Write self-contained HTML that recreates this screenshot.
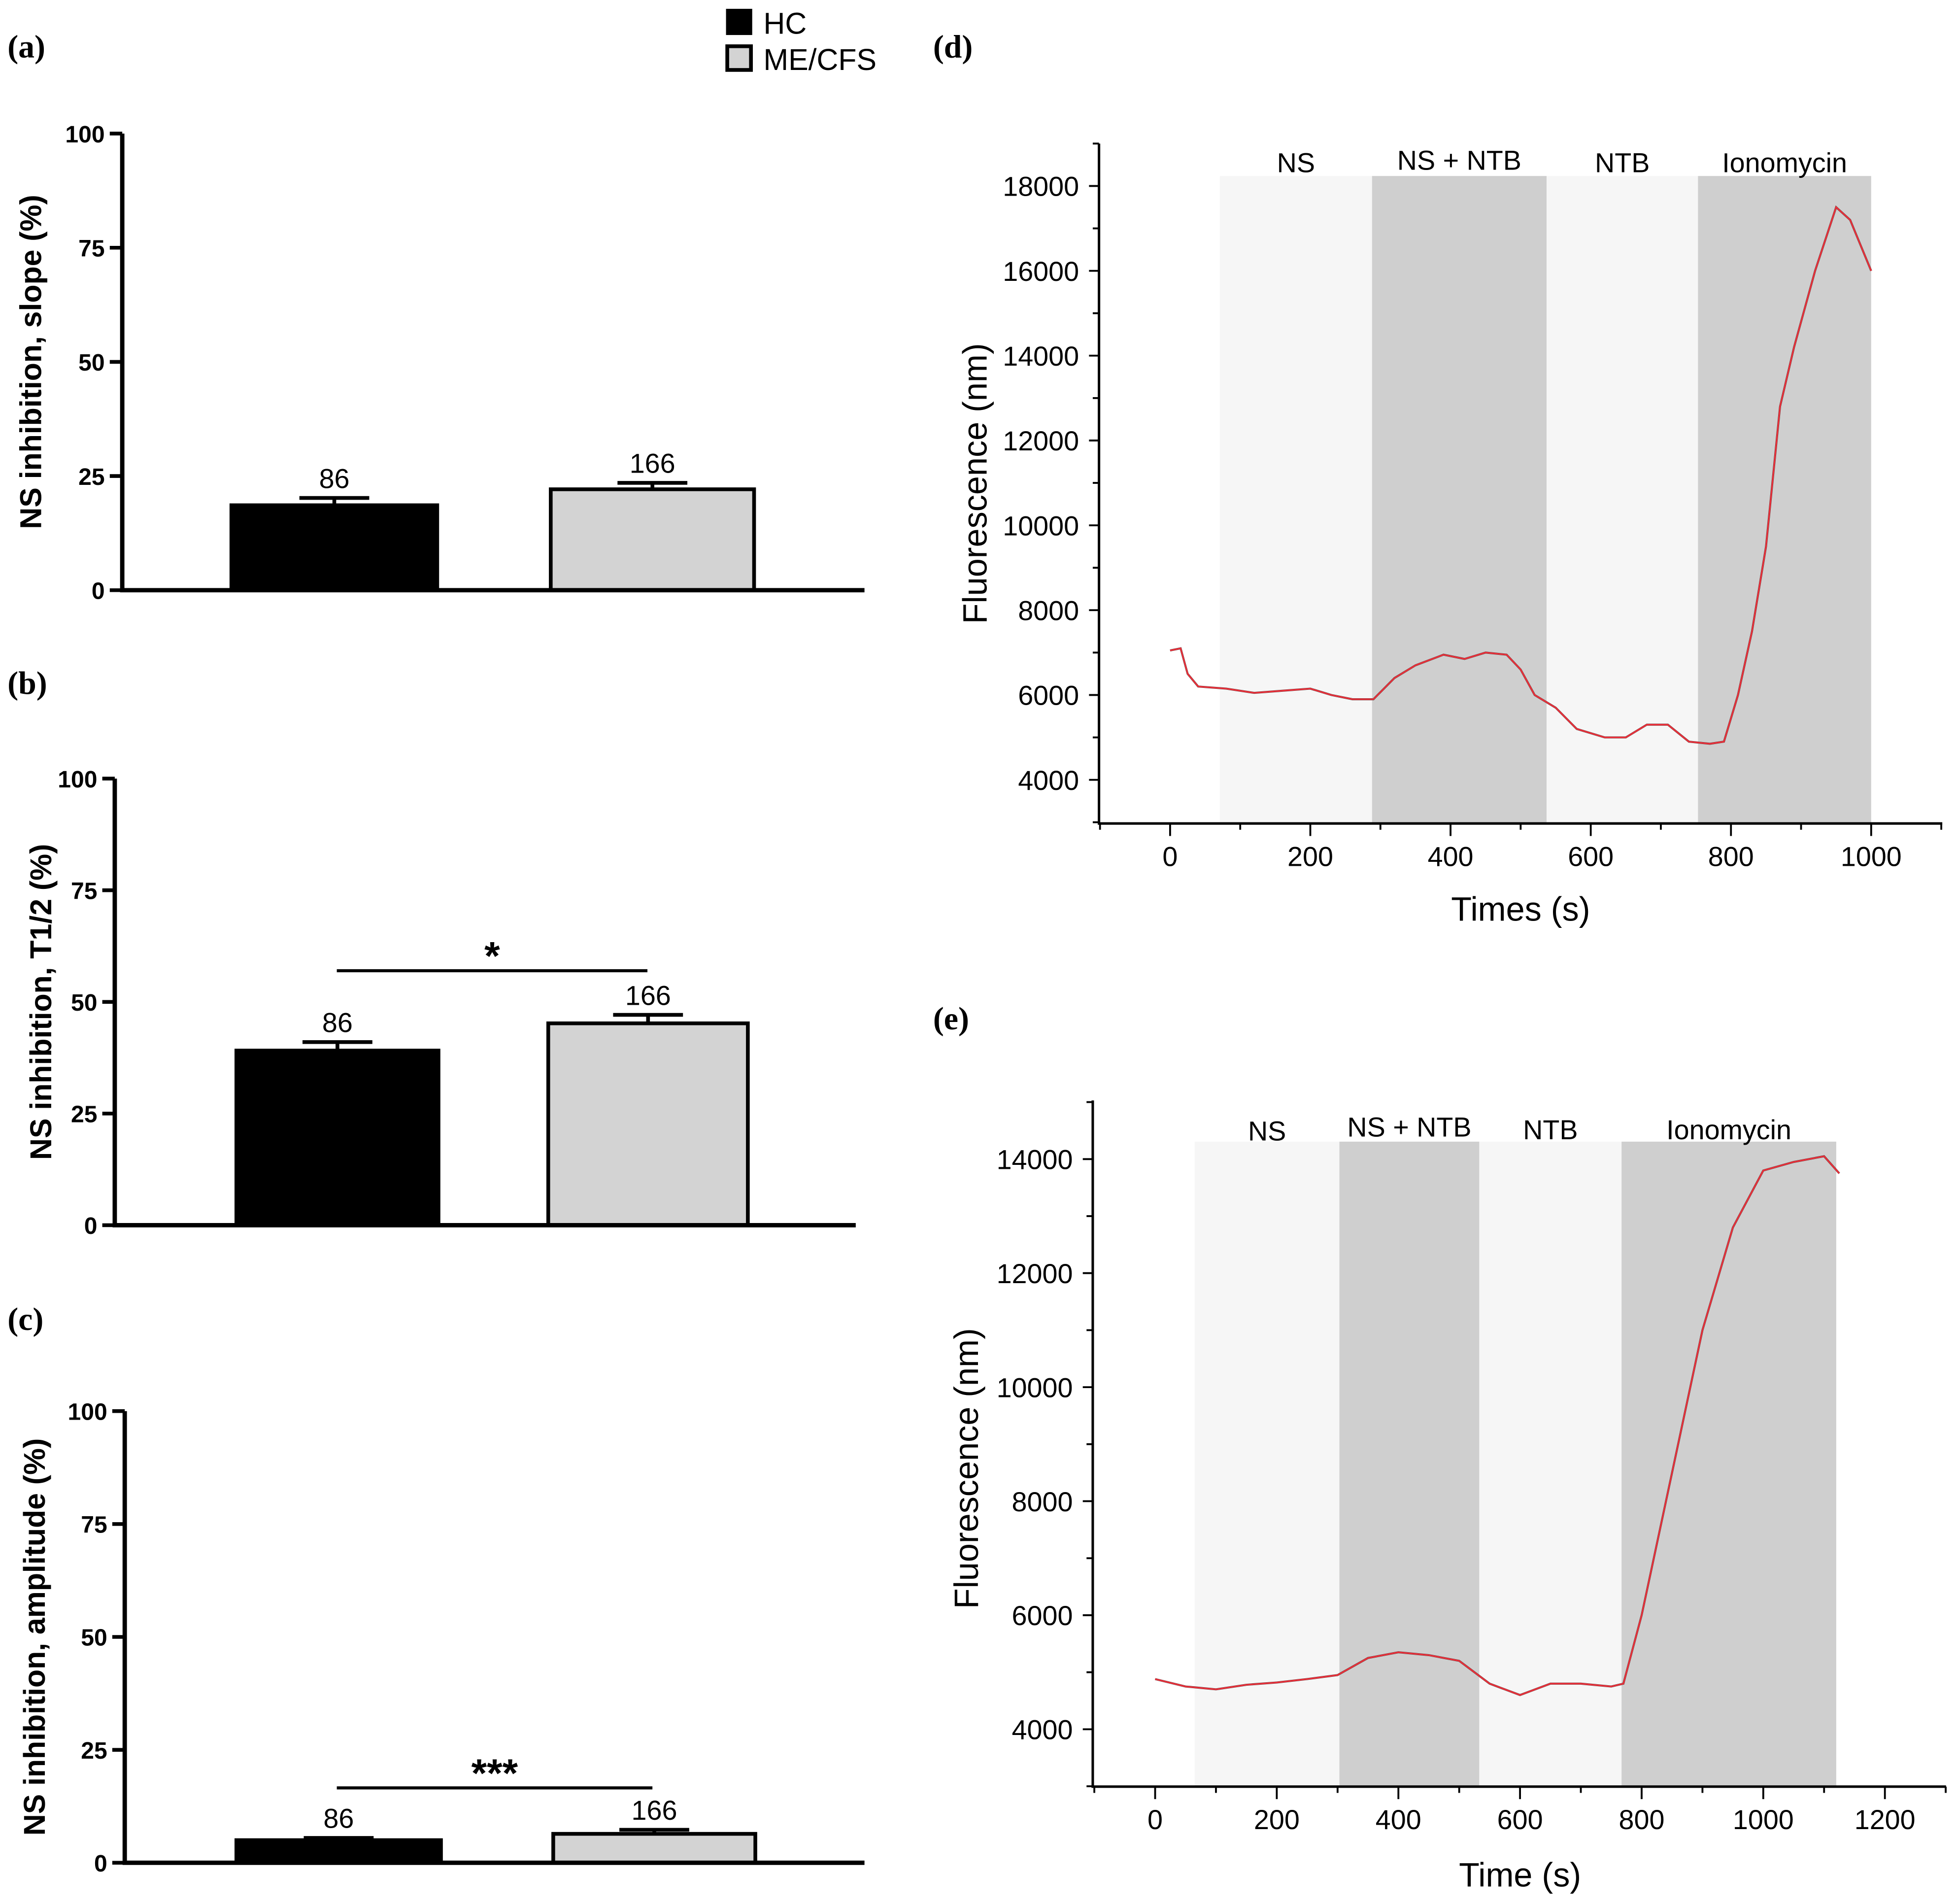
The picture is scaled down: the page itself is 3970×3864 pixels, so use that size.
<!DOCTYPE html>
<html><head><meta charset="utf-8"><style>
html,body{margin:0;padding:0;background:#fff}
svg{display:block}
text{font-family:"Liberation Sans",sans-serif}
.pl{font-family:"Liberation Serif",serif;font-weight:bold;font-size:26px}
</style></head><body>
<svg id="fig" width="3970" height="3864" viewBox="0 0 1568 1526" xmlns="http://www.w3.org/2000/svg">
<text class="pl" x="6" y="46">(a)</text>
<text class="pl" x="6" y="556">(b)</text>
<text class="pl" x="6" y="1066">(c)</text>
<text class="pl" x="748" y="46">(d)</text>
<text class="pl" x="748" y="825">(e)</text>
<g>
<rect x="582" y="7" width="21" height="21" fill="#000"/>
<text x="612" y="27" font-size="24">HC</text>
<rect x="583" y="37" width="19" height="19" fill="#d3d3d3" stroke="#000" stroke-width="3"/>
<text x="612" y="56" font-size="24">ME/CFS</text>
</g>
<g id="bars"></g>
<g id="lines"></g>
</svg>
<script>
const NS='http://www.w3.org/2000/svg';
function mk(p,tag,at,txt){const e=document.createElementNS(NS,tag);for(const k in at)e.setAttribute(k,at[k]);if(txt!==undefined)e.textContent=txt;p.appendChild(e);return e;}
// ---- bar chart data ----
const barGroups=['HC','ME/CFS'];
const slopeVals=[18.6,22.1];
const slopeErr=[1.6,1.4];
const t12Vals=[39.1,45.2];
const t12Err=[1.9,1.9];
const ampVals=[5.0,6.4];
const ampErr=[0.5,0.9];
const nLabels=['86','166'];
const barTicks=[0,25,50,75,100];
const barPanels=[
 {id:'a',vals:slopeVals,err:slopeErr,ax:98,top:107,bot:473,right:693,bx:[[184,352],[440,606]],title:'NS inhibition, slope (%)',tx:25,sig:null},
 {id:'b',vals:t12Vals,err:t12Err,ax:92,top:624,bot:982,right:686,bx:[[188,353],[438,601]],title:'NS inhibition, T1/2 (%)',tx:33,sig:{x1:270,x2:519,y:778,t:'*'}},
 {id:'c',vals:ampVals,err:ampErr,ax:100,top:1131,bot:1493,right:693,bx:[[188,355],[442,607]],title:'NS inhibition, amplitude (%)',tx:28,sig:{x1:270,x2:523,y:1433,t:'***'}}
];
const bg=document.getElementById('bars');
barPanels.forEach(P=>{
 const g=mk(bg,'g',{});
 
 
 const y=v=>P.bot-(v/100)*(P.bot-P.top);
 P.vals.forEach((v,i)=>{
  const [x1,x2]=P.bx[i];const cx=(x1+x2)/2;
  const ey=y(v+P.err[i]);
  const eb=mk(g,'path',{d:`M${cx},${y(v)}V${ey}M${cx-28},${ey}H${cx+28}`,stroke:'#000','stroke-width':3,fill:'none'});
  
  
  const r=mk(g,'rect',{x:x1+1.5,y:y(v),width:x2-x1-3,height:P.bot-y(v),fill:i?'#d3d3d3':'#000',stroke:'#000','stroke-width':3});
  
  
  const t=mk(g,'text',{x:cx,y:ey-8,'font-size':22,'text-anchor':'middle'},nLabels[i]);
  
  
 });
 const ax=mk(g,'path',{d:`M${P.ax},${P.top}V${P.bot}H${P.right}`,stroke:'#000','stroke-width':3.5,fill:'none'});
 
 
 barTicks.forEach(t=>{
  mk(g,'line',{x1:P.ax-10,x2:P.ax,y1:y(t),y2:y(t),stroke:'#000','stroke-width':3});
  const tl=mk(g,'text',{x:P.ax-14,y:y(t)+7,'font-size':19,'font-weight':'bold','text-anchor':'end'},t);
  
  
 });
 const cy=(P.top+P.bot)/2;
 const tt=mk(g,'text',{x:P.tx,y:cy,'font-size':24,'font-weight':'bold','text-anchor':'middle',transform:`rotate(-90 ${P.tx} ${cy})`,dy:8},P.title);
 
 
 if(P.sig){
  const s=mk(g,'line',{x1:P.sig.x1,x2:P.sig.x2,y1:P.sig.y,y2:P.sig.y,stroke:'#000','stroke-width':2.5});
  
  
  const st=mk(g,'text',{x:(P.sig.x1+P.sig.x2)/2,y:P.sig.y-1,'font-size':32,'font-weight':'bold','text-anchor':'middle'},P.sig.t);
  
  
 }
});
// ---- line chart data ----
const dTime=[0,15,25,40,80,120,160,200,230,260,290,320,350,390,420,450,480,500,520,550,580,620,650,680,710,740,770,790,810,830,850,870,890,920,950,970,1000];
const dFluor=[7050,7100,6500,6200,6150,6050,6100,6150,6000,5900,5900,6400,6700,6950,6850,7000,6950,6600,6000,5700,5200,5000,5000,5300,5300,4900,4850,4900,6000,7500,9500,12800,14200,16000,17500,17200,16000];
const dBands=[[71,288],[288,537],[537,753],[753,1000]];
const dBandLabels=['NS','NS + NTB','NTB','Ionomycin'];
const dXTicks=[0,200,400,600,800,1000];
const dYTicks=[4000,6000,8000,10000,12000,14000,16000,18000];
const eTime=[0,50,100,150,200,250,300,350,400,450,500,550,600,650,700,750,770,800,850,900,950,1000,1050,1100,1125];
const eFluor=[4880,4750,4700,4780,4820,4880,4950,5250,5350,5300,5200,4800,4600,4800,4800,4750,4800,6000,8500,11000,12800,13800,13950,14050,13750];
const eBands=[[65,303],[303,533],[533,767],[767,1120]];
const eBandLabels=['NS','NS + NTB','NTB','Ionomycin'];
const eXTicks=[0,200,400,600,800,1000,1200];
const eYTicks=[4000,6000,8000,10000,12000,14000];
const linePanels=[
 {id:'d',t:dTime,f:dFluor,bands:dBands,bl:dBandLabels,xt:dXTicks,yt:dYTicks,x0:938,xs:0.562,y0:625,ys:0.034,v0:4000,ax:881,axTop:115,axBot:660,axRight:1557,bandTop:141,blY:[138,136,138,138],xtitle:'Times (s)',xtY:738,ytX:782,xminor:100,yminor:1000},
 {id:'e',t:eTime,f:eFluor,bands:eBands,bl:eBandLabels,xt:eXTicks,yt:eYTicks,x0:926,xs:0.4875,y0:1386,ys:0.0457,v0:4000,ax:876,axTop:882,axBot:1432,axRight:1560,bandTop:915,blY:[914,911,913,913],xtitle:'Time (s)',xtY:1512,ytX:775,xminor:100,yminor:1000}
];
const lg=document.getElementById('lines');
linePanels.forEach(P=>{
 const g=mk(lg,'g',{});
 
 
 const X=v=>P.x0+v*P.xs, Y=v=>P.y0-(v-P.v0)*P.ys;
 P.bands.forEach((b,i)=>{
  const r=mk(g,'rect',{x:X(b[0]),y:P.bandTop,width:X(b[1])-X(b[0]),height:P.axBot-P.bandTop,fill:i%2?'#cfcfcf':'#f6f6f6'});
  
  
  const t=mk(g,'text',{x:(X(b[0])+X(b[1]))/2,y:P.blY[i],'font-size':22,'text-anchor':'middle'},P.bl[i]);
  
  
 });
 const pts=P.t.map((t,i)=>X(t)+','+Y(P.f[i])).join(' ');
 const l1=mk(g,'polyline',{points:pts,fill:'none',stroke:'#333','stroke-width':1.6});
 
 
 const l2=mk(g,'polyline',{points:pts,fill:'none',stroke:'#e8303a','stroke-width':1.3});
 
 
 const ax=mk(g,'path',{d:`M${P.ax},${P.axTop}V${P.axBot}H${P.axRight}`,stroke:'#000','stroke-width':2,fill:'none'});
 
 
 const xmax=(P.axRight-P.x0)/P.xs;
 for(let v=-P.xminor;v<=xmax;v+=P.xminor){const x=X(v);if(x<P.ax)continue;const maj=P.xt.includes(v);
  mk(g,'line',{x1:x,x2:x,y1:P.axBot,y2:P.axBot+(maj?10:5),stroke:'#000','stroke-width':1.5});}
 P.xt.forEach(v=>{const t=mk(g,'text',{x:X(v),y:P.axBot+34,'font-size':22,'text-anchor':'middle'},v);
  
  });
 const vmin=P.v0-(P.axBot-P.y0)/P.ys, vmax=P.v0+(P.y0-P.axTop)/P.ys;
 for(let v=Math.ceil(vmin/P.yminor)*P.yminor;v<=vmax;v+=P.yminor){const maj=P.yt.includes(v);
  mk(g,'line',{x1:P.ax-(maj?8:5),x2:P.ax,y1:Y(v),y2:Y(v),stroke:'#000','stroke-width':1.5});}
 P.yt.forEach(v=>{const t=mk(g,'text',{x:P.ax-16,y:Y(v)+8,'font-size':22,'text-anchor':'end'},v);
  
  });
 const xt=mk(g,'text',{x:(P.x0+X(P.xt[P.xt.length-1]))/2,y:P.xtY,'font-size':27,'text-anchor':'middle'},P.xtitle);
 
 
 const cy=(P.axTop+P.axBot)/2+(P.id==='e'?20:0);
 const yt=mk(g,'text',{x:P.ytX,y:cy,dy:9,'font-size':27,'text-anchor':'middle',transform:`rotate(-90 ${P.ytX} ${cy})`},'Fluorescence (nm)');
 
 
});
</script>
</body></html>
